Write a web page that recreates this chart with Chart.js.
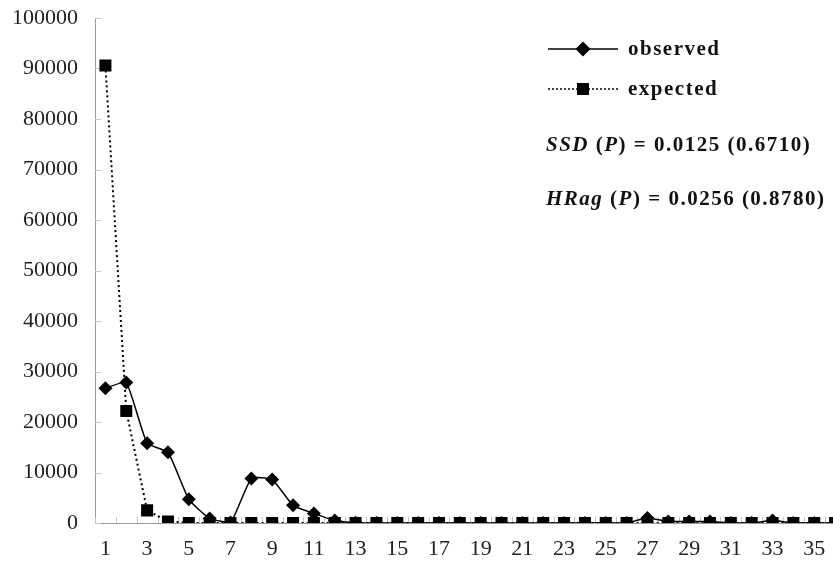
<!DOCTYPE html>
<html>
<head>
<meta charset="utf-8">
<script src="https://cdn.jsdelivr.net/npm/chart.js@4.4.0/dist/chart.umd.min.js"></script>
<style>
  html, body { margin: 0; padding: 0; background: #fff; overflow: hidden; }
  #wrap { position: relative; width: 854px; height: 566px; }
  .note { position: absolute; font-family: "Liberation Serif", "DejaVu Serif", serif; font-weight: bold; color: #111; white-space: nowrap; }
  .leg { font-size: 21px; letter-spacing: 1.5px; }
  .stat { font-size: 21px; letter-spacing: 1.5px; }
  .sample { position: absolute; }
</style>
</head>
<body>
<div id="wrap">
  <canvas id="chart"></canvas>

  <svg class="sample" style="left:548px;top:39px" width="72" height="20">
    <line x1="0" y1="10" x2="70" y2="10" stroke="#000" stroke-width="1.5"/>
    <polygon points="35,2.5 42.5,10 35,17.5 27.5,10" fill="#000"/>
  </svg>
  <div class="note leg" style="left:628px;top:36px">observed</div>

  <svg class="sample" style="left:548px;top:79px" width="72" height="20">
    <line x1="0" y1="10" x2="70" y2="10" stroke="#000" stroke-width="1.5" stroke-dasharray="2,2"/>
    <rect x="29" y="4" width="12" height="12" fill="#000"/>
  </svg>
  <div class="note leg" style="left:628px;top:76px">expected</div>

  <div class="note stat" style="left:546px;top:132px"><i>SSD</i> (<i>P</i>) = 0.0125 (0.6710)</div>
  <div class="note stat" style="left:546px;top:186px"><i>HRag</i> (<i>P</i>) = 0.0256 (0.8780)</div>
</div>

<script>
/* DATA */

var categories = ['1', '2', '3', '4', '5', '6', '7', '8', '9', '10', '11', '12',
                  '13', '14', '15', '16', '17', '18', '19', '20', '21', '22', '23', '24',
                  '25', '26', '27', '28', '29', '30', '31', '32', '33', '34', '35', '36'];

var observed = [26700, 27800, 15800, 14000, 4700, 900, 100, 8800, 8600, 3500, 1900, 500,
                50, 0, 0, 0, 0, 0, 0, 0, 0, 0, 0, 0,
                0, 0, 1000, 300, 300, 300, 0, 0, 500, 0, 0, 0];

var expected = [90600, 22200, 2500, 300, 0, 0, 0, 0, 0, 0, 0, 0,
                0, 0, 0, 0, 0, 0, 0, 0, 0, 0, 0, 0,
                0, 0, 0, 0, 0, 0, 0, 0, 0, 0, 0, 0];

var yTicks = [0, 10000, 20000, 30000, 40000, 50000, 60000, 70000, 80000, 90000, 100000];

/* CHART */

var axisFont = { family: 'Liberation Serif', size: 22 };

// маленькие засечки внутрь области графика, как в Excel
var innerTicks = {
    id: 'innerTicks',
    beforeDatasetsDraw: function (chart) {
        var ctx = chart.ctx;
        var x = chart.scales.x, y = chart.scales.y;
        var area = chart.chartArea;
        ctx.save();
        ctx.strokeStyle = '#c4c4c4';
        ctx.lineWidth = 1;
        ctx.beginPath();
        yTicks.forEach(function (v) {
            var py = Math.round(y.getPixelForValue(v)) + 0.5;
            ctx.moveTo(area.left, py);
            ctx.lineTo(area.left + 6, py);
        });
        var half = (x.getPixelForValue(1) - x.getPixelForValue(0)) / 2;
        for (var i = 0; i <= categories.length; i++) {
            var px = Math.round(x.getPixelForValue(i) - half) + 0.5;
            ctx.moveTo(px, area.bottom);
            ctx.lineTo(px, area.bottom - 6);
        }
        ctx.stroke();
        ctx.restore();
    }
};

var ctx = document.getElementById('chart').getContext('2d');

var myChart = new Chart(ctx, {
    type: 'line',
    data: {
        labels: categories,
        datasets: [
            {
                label: 'observed',
                data: observed,
                borderColor: '#000',
                backgroundColor: '#000',
                borderWidth: 1.5,
                pointStyle: 'rectRot',
                pointRadius: 7,
                pointBorderWidth: 0,
                tension: 0.15,
                fill: false
            },
            {
                label: 'expected',
                data: expected,
                borderColor: '#000',
                backgroundColor: '#000',
                borderWidth: 2,
                borderDash: [2, 3],
                pointStyle: 'rect',
                pointRadius: 8.5,
                pointBorderWidth: 0,
                tension: 0,
                fill: false
            }
        ]
    },
    plugins: [innerTicks],
    options: {
        responsive: true,
        maintainAspectRatio: false,
        animation: false,
        layout: { padding: { top: 18, right: 1, left: 0, bottom: 0 } },
        scales: {
            x: {
                offset: true,
                grid: { display: false, drawTicks: false },
                border: { display: true, color: '#9a9a9a', width: 1 },
                afterFit: function (scale) { scale.height = 43; },
                ticks: {
                    autoSkip: false,
                    maxRotation: 0,
                    padding: 13,
                    color: '#222',
                    font: axisFont,
                    callback: function (value, index) {
                        if (index % 2 == 0) return categories[index];
                        else return '';
                    }
                }
            },
            y: {
                min: 0,
                max: 100000,
                grid: { display: false, drawTicks: false },
                border: { display: true, color: '#9a9a9a', width: 1 },
                afterFit: function (scale) {
                    scale.width = 95;
                    scale.paddingTop = 0;
                    scale.paddingBottom = 0;
                },
                ticks: {
                    stepSize: 10000,
                    padding: 17,
                    color: '#222',
                    font: axisFont,
                    callback: function (value) { return String(value); }
                }
            }
        },
        plugins: {
            legend: { display: false },
            tooltip: { enabled: false }
        }
    }
});
</script>
</body>
</html>
